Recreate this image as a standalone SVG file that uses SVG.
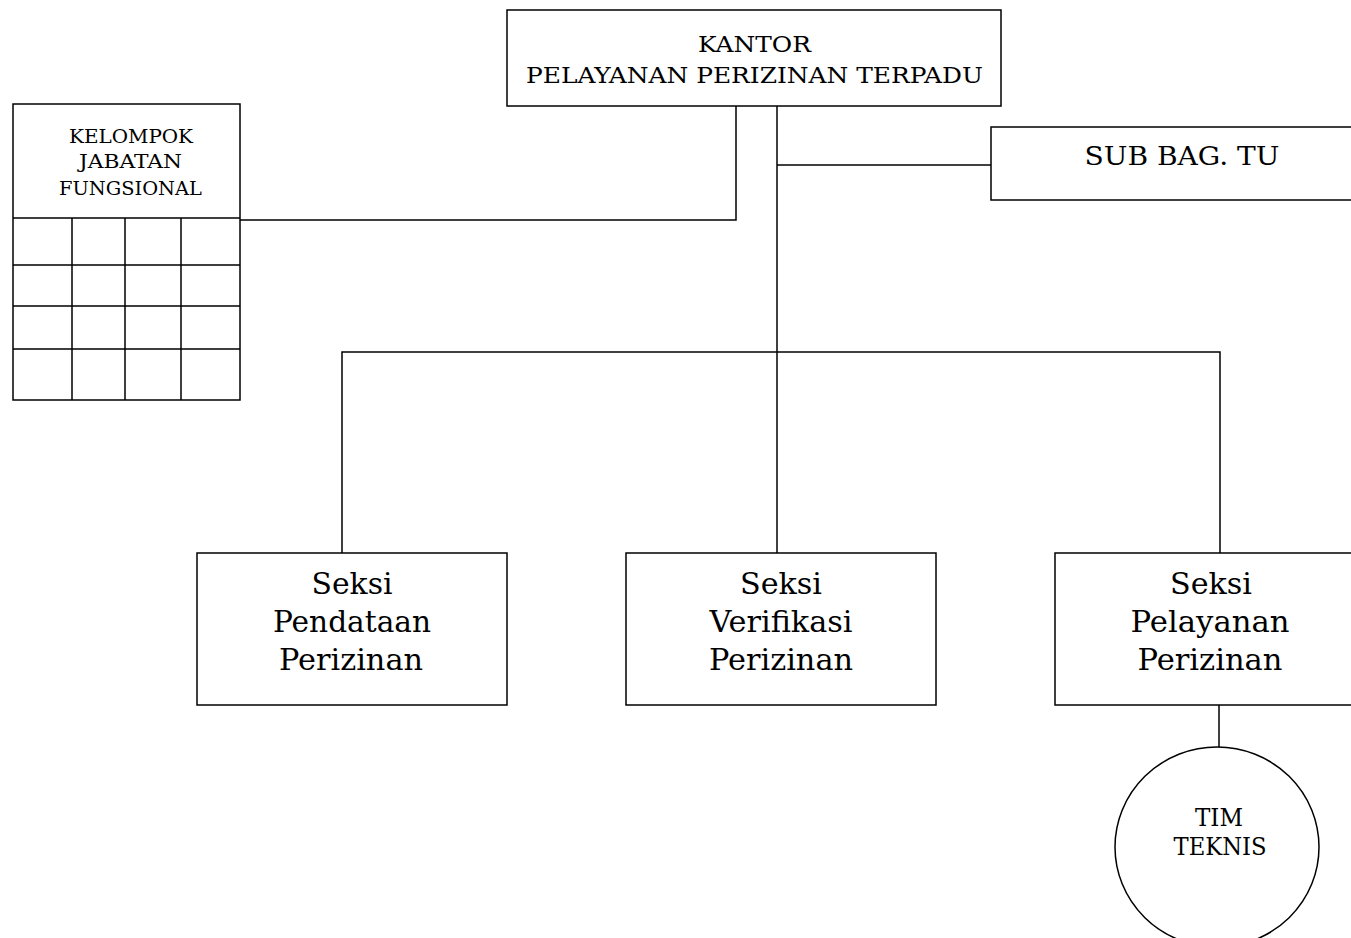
<svg xmlns="http://www.w3.org/2000/svg" width="1351" height="938" viewBox="0 0 1351 938">
<style>
.box{fill:#fff;stroke:#000;stroke-width:1.5}
.ln{fill:none;stroke:#000;stroke-width:1.5}
text{font-family:"DejaVu Serif","Liberation Serif",serif;fill:#000;text-anchor:middle}
.t22{font-size:22px}
.t16{font-size:18px}
.t24{font-size:26px}
.t30{font-size:30px}
.t23{font-size:24px}
</style>
<rect width="1351" height="938" fill="#fff"/>
<g id="connectors">
<polyline class="ln" points="736,106 736,220 240,220"/>
<line class="ln" x1="777" y1="106" x2="777" y2="553"/>
<line class="ln" x1="777" y1="165" x2="991" y2="165"/>
<polyline class="ln" points="342,553 342,352 1220,352 1220,553"/>
<line class="ln" x1="1219" y1="705" x2="1219" y2="748"/>
</g>
<g id="kantor">
<rect class="box" x="507" y="10" width="494" height="96"/>
<text class="t22" x="754.5" y="52" textLength="113" lengthAdjust="spacingAndGlyphs">KANTOR</text>
<text class="t22" x="754.5" y="83" textLength="457" lengthAdjust="spacingAndGlyphs">PELAYANAN PERIZINAN TERPADU</text>
</g>
<g id="fungsional">
<rect class="box" x="13" y="104" width="227" height="296"/>
<path class="ln" d="M13,218H240M13,265H240M13,306H240M13,349H240M72,218V400M125,218V400M181,218V400"/>
<text class="t16" x="131" y="143" textLength="124" lengthAdjust="spacingAndGlyphs">KELOMPOK</text>
<text class="t16" x="130.5" y="168" textLength="103" lengthAdjust="spacingAndGlyphs">JABATAN</text>
<text class="t16" x="130.5" y="195" textLength="143" lengthAdjust="spacingAndGlyphs">FUNGSIONAL</text>
</g>
<g id="subbag">
<rect class="box" x="991" y="127" width="380" height="73"/>
<text class="t24" x="1182" y="165" textLength="195" lengthAdjust="spacingAndGlyphs">SUB BAG. TU</text>
</g>
<g id="pendataan">
<rect class="box" x="197" y="553" width="310" height="152"/>
<text class="t30" x="352" y="594" textLength="81" lengthAdjust="spacingAndGlyphs">Seksi</text>
<text class="t30" x="352" y="632" textLength="158" lengthAdjust="spacingAndGlyphs">Pendataan</text>
<text class="t30" x="351" y="670" textLength="144" lengthAdjust="spacingAndGlyphs">Perizinan</text>
</g>
<g id="verifikasi">
<rect class="box" x="626" y="553" width="310" height="152"/>
<text class="t30" x="781" y="594" textLength="82" lengthAdjust="spacingAndGlyphs">Seksi</text>
<text class="t30" x="781" y="632" textLength="143" lengthAdjust="spacingAndGlyphs">Verifikasi</text>
<text class="t30" x="781" y="670" textLength="144" lengthAdjust="spacingAndGlyphs">Perizinan</text>
</g>
<g id="pelayanan">
<rect class="box" x="1055" y="553" width="310" height="152"/>
<text class="t30" x="1211" y="594" textLength="82" lengthAdjust="spacingAndGlyphs">Seksi</text>
<text class="t30" x="1210" y="632" textLength="159" lengthAdjust="spacingAndGlyphs">Pelayanan</text>
<text class="t30" x="1210" y="670" textLength="145" lengthAdjust="spacingAndGlyphs">Perizinan</text>
</g>
<g id="tim">
<ellipse class="box" cx="1217" cy="847" rx="102" ry="100"/>
<text class="t23" x="1219" y="826" textLength="48" lengthAdjust="spacingAndGlyphs">TIM</text>
<text class="t23" x="1220" y="855" textLength="93" lengthAdjust="spacingAndGlyphs">TEKNIS</text>
</g>
</svg>
